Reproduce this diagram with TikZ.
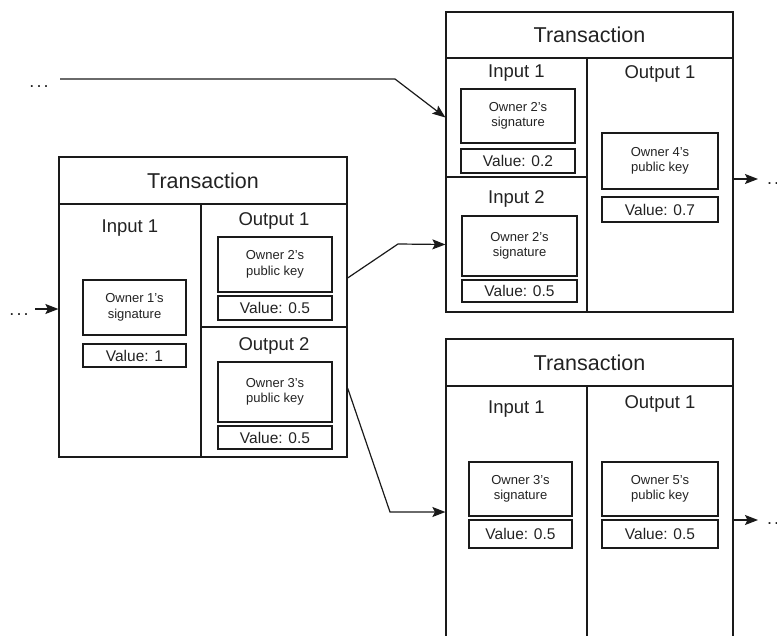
\documentclass[tikz,border=0pt]{standalone}
\usepackage{fontspec}
\setmainfont{Liberation Sans}
\usetikzlibrary{arrows.meta}
\definecolor{txt}{HTML}{222222}
\definecolor{ln}{HTML}{1A1A1A}
\tikzset{
  cell/.style={draw=ln, line width=1.2pt, rectangle, inner sep=0pt},
  inner/.style={draw=ln, line width=1.2pt, rectangle, inner sep=0pt, align=center, text=txt},
  ttl/.style={text=txt, inner sep=0pt, font=\fontsize{21.5}{24}\selectfont},
  sub/.style={text=txt, inner sep=0pt, font=\fontsize{18.5}{21}\selectfont},
  small/.style={font=\fontsize{13}{15.5}\selectfont},
  val/.style={font=\fontsize{15.5}{17}\selectfont},
  dots/.style={text=txt, inner sep=0pt, font=\fontsize{18}{20}\selectfont},
  conn/.style={draw=ln, line width=1.2pt, -{Stealth[length=13pt,width=10pt,inset=2.5pt]}},
}
\newcommand{\mydots}{.\kern2pt.\kern2pt.}
\begin{document}
\begin{tikzpicture}[x=1pt,y=-1pt]
\useasboundingbox (0,0) rectangle (777,635);
\clip (0,0) rectangle (777,635);
% ---------- Transaction 1 (left) ----------
\node[cell, minimum width=288pt, minimum height=47pt] (t1h) at (203,180.5) {};
\node[ttl] (t1ht) at (203,180.5) {Transaction};
\node[cell, minimum width=142pt, minimum height=253pt] (t1in) at (130,330.5) {};
\node[cell, minimum width=146pt, minimum height=123pt] (t1o1) at (274,265.5) {};
\node[cell, minimum width=146pt, minimum height=130pt] (t1o2) at (274,392) {};
\node[sub] (t1inl) at (130,228) {Input 1};
\node[sub] (t1o1l) at (274,221) {Output 1};
\node[sub] (t1o2l) at (274,346) {Output 2};
\node[inner, small, minimum width=103pt, minimum height=55pt] (t1sig) at (134.5,307.5) {Owner 1's\\signature};
\node[inner, val, minimum width=103pt, minimum height=23pt] (t1v) at (134.5,355.5) {Value: 1};
\node[inner, small, minimum width=114pt, minimum height=55pt] (t1pk2) at (275,264.5) {Owner 2's\\public key};
\node[inner, val, minimum width=114pt, minimum height=24pt] (t1v2) at (275,308) {Value: 0.5};
\node[inner, small, minimum width=114pt, minimum height=60pt] (t1pk3) at (275,392) {Owner 3's\\public key};
\node[inner, val, minimum width=114pt, minimum height=23pt] (t1v3) at (275,437.5) {Value: 0.5};
% ---------- Transaction 2 (top right) ----------
\node[cell, minimum width=287pt, minimum height=46pt] (t2h) at (589.5,35) {};
\node[ttl] (t2ht) at (589.5,35) {Transaction};
\node[cell, minimum width=141pt, minimum height=119pt] (t2i1) at (516.5,117.5) {};
\node[cell, minimum width=141pt, minimum height=135pt] (t2i2) at (516.5,244.5) {};
\node[cell, minimum width=146pt, minimum height=254pt] (t2o) at (660,185) {};
\node[sub] (t2i1l) at (516.5,73) {Input 1};
\node[sub] (t2i2l) at (516.5,199) {Input 2};
\node[sub] (t2ol) at (660,74) {Output 1};
\node[inner, small, minimum width=114pt, minimum height=54pt] (t2sa) at (518,116) {Owner 2's\\signature};
\node[inner, val, minimum width=114pt, minimum height=24pt] (t2va) at (518,161) {Value: 0.2};
\node[inner, small, minimum width=115pt, minimum height=60pt] (t2sb) at (519.5,246) {Owner 2's\\signature};
\node[inner, val, minimum width=115pt, minimum height=22pt] (t2vb) at (519.5,291) {Value: 0.5};
\node[inner, small, minimum width=116pt, minimum height=56pt] (t2pk) at (660,161) {Owner 4's\\public key};
\node[inner, val, minimum width=116pt, minimum height=25pt] (t2v) at (660,209.5) {Value: 0.7};
% ---------- Transaction 3 (bottom right) ----------
\node[cell, minimum width=287pt, minimum height=47pt] (t3h) at (589.5,362.5) {};
\node[ttl] (t3ht) at (589.5,362.5) {Transaction};
\node[cell, minimum width=141pt, minimum height=254pt] (t3i) at (516.5,513) {};
\node[cell, minimum width=146pt, minimum height=254pt] (t3o) at (660,513) {};
\node[sub] (t3il) at (516.5,409) {Input 1};
\node[sub] (t3ol) at (660,404) {Output 1};
\node[inner, small, minimum width=103pt, minimum height=54pt] (t3s) at (520.5,489) {Owner 3's\\signature};
\node[inner, val, minimum width=103pt, minimum height=28pt] (t3v) at (520.5,534) {Value: 0.5};
\node[inner, small, minimum width=116pt, minimum height=54pt] (t3pk) at (660,489) {Owner 5's\\public key};
\node[inner, val, minimum width=116pt, minimum height=28pt] (t3v5) at (660,534) {Value: 0.5};
% ---------- dots ----------
\node[dots, anchor=base] (dtop) at (39,87) {\mydots};
\node[dots, anchor=base] (dleft) at (19,315) {\mydots};
\node[dots, anchor=base west] (dr1) at (767,184) {\mydots};
\node[dots, anchor=base west] (dr2) at (767,524) {\mydots};
% ---------- connectors ----------
\coordinate (c1) at (395,79);
\draw[conn] (60,79) -- (c1) -- (t2i1.west);
\coordinate (c2) at (398,244);
\draw[conn] ([yshift=-12.5pt]t1o1.east) -- (c2) -- (t2i2.west);
\coordinate (c3) at (390,512);
\draw[conn] ([yshift=4pt]t1o2.east) -- (c3) -- (c3 -| t3i.west);
\draw[conn] (35,309) -- (35,309 -| t1in.west);
\draw[conn] (t2o.east |- 0,179) -- (758,179);
\draw[conn] (t3o.east |- 0,520) -- (758,520);
\end{tikzpicture}
\end{document}
